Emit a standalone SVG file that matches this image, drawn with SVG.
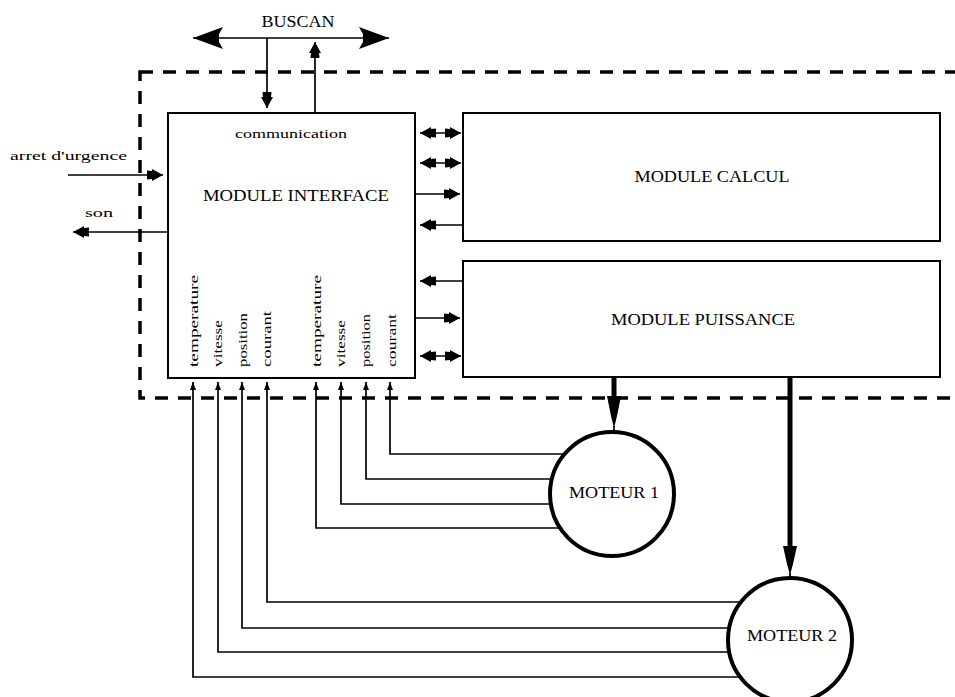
<svg xmlns="http://www.w3.org/2000/svg" width="955" height="697" viewBox="0 0 955 697">
  <style>
    text { font-family: "Liberation Serif", "Times New Roman", serif; fill: #000; }
    .box { fill: #fff; stroke: #000; stroke-width: 2; }
    .motor { fill: #fff; stroke: #000; stroke-width: 4; }
    .wire { fill: none; stroke: #000; stroke-width: 1.7; }
    .power { fill: none; stroke: #000; stroke-width: 5; }
    .frame { fill: none; stroke: #000; stroke-width: 3.5; stroke-dasharray: 13 10; }
    .title { font-size: 16px; }
    .small { font-size: 12px; }
    .arrow { fill: #000; }
  </style>
  <defs>
    <marker id="head" markerUnits="userSpaceOnUse" viewBox="0 0 16 12" refX="16" refY="6" markerWidth="16" markerHeight="12" orient="auto-start-reverse">
      <path d="M0,1.5 L5,2 L5,0 L16,6 L5,12 L5,10 L0,10.5 Z" class="arrow"/>
    </marker>
    <marker id="tick" markerUnits="userSpaceOnUse" viewBox="0 0 8 8" refX="8" refY="4" markerWidth="8" markerHeight="8" orient="auto">
      <path d="M0,1 L8,4 L0,7 Z" class="arrow"/>
    </marker>
    <marker id="bus" markerUnits="userSpaceOnUse" viewBox="0 0 30 22" refX="30" refY="11" markerWidth="30" markerHeight="22" orient="auto-start-reverse">
      <path d="M0,0 L4,7 L4,15 L0,22 L30,11 Z" class="arrow"/>
    </marker>
  </defs>

  <!-- board outline -->
  <rect class="frame" x="140" y="72" width="840" height="326"/>

  <!-- CAN bus -->
  <g id="buscan">
    <text class="title" x="298" y="27" text-anchor="middle" textLength="73" lengthAdjust="spacingAndGlyphs">BUSCAN</text>
  </g>

  <g id="module-interface">
    <rect class="box" x="168" y="113" width="247" height="265"/>
    <text class="small" x="291" y="138" text-anchor="middle" textLength="112" lengthAdjust="spacingAndGlyphs">communication</text>
    <text class="title" x="296" y="201" text-anchor="middle" textLength="186" lengthAdjust="spacingAndGlyphs">MODULE INTERFACE</text>
    <!-- sensor inputs, motor 2 -->
    <text class="small" transform="translate(198,367) rotate(-90)" textLength="92" lengthAdjust="spacingAndGlyphs">temperature</text>
    <text class="small" transform="translate(222,367) rotate(-90)" textLength="47" lengthAdjust="spacingAndGlyphs">vitesse</text>
    <text class="small" transform="translate(247,367) rotate(-90)" textLength="54" lengthAdjust="spacingAndGlyphs">position</text>
    <text class="small" transform="translate(271,367) rotate(-90)" textLength="56" lengthAdjust="spacingAndGlyphs">courant</text>
    <!-- sensor inputs, motor 1 -->
    <text class="small" transform="translate(321,367) rotate(-90)" textLength="92" lengthAdjust="spacingAndGlyphs">temperature</text>
    <text class="small" transform="translate(345,367) rotate(-90)" textLength="47" lengthAdjust="spacingAndGlyphs">vitesse</text>
    <text class="small" transform="translate(370,367) rotate(-90)" textLength="53" lengthAdjust="spacingAndGlyphs">position</text>
    <text class="small" transform="translate(396,367) rotate(-90)" textLength="53" lengthAdjust="spacingAndGlyphs">courant</text>
  </g>

  <g id="module-calcul">
    <rect class="box" x="463" y="113" width="477" height="128"/>
    <text class="title" x="712" y="182" text-anchor="middle" textLength="155" lengthAdjust="spacingAndGlyphs">MODULE CALCUL</text>
  </g>

  <g id="module-puissance">
    <rect class="box" x="463" y="261" width="477" height="116"/>
    <text class="title" x="703" y="325" text-anchor="middle" textLength="184" lengthAdjust="spacingAndGlyphs">MODULE PUISSANCE</text>
  </g>

  <g id="moteur1">
    <circle class="motor" cx="612" cy="494" r="62"/>
    <text class="title" x="614" y="498" text-anchor="middle" textLength="90" lengthAdjust="spacingAndGlyphs">MOTEUR 1</text>
  </g>

  <g id="moteur2">
    <circle class="motor" cx="790" cy="640" r="62"/>
    <text class="title" x="792" y="641" text-anchor="middle" textLength="90" lengthAdjust="spacingAndGlyphs">MOTEUR 2</text>
  </g>

  <g id="labels">
    <text class="small" x="10" y="160" textLength="117" lengthAdjust="spacingAndGlyphs">arret d'urgence</text>
    <text class="small" x="85" y="217" textLength="28" lengthAdjust="spacingAndGlyphs">son</text>
  </g>

  <g id="connectors">
    <!-- CAN bus line and its two links -->
    <line class="wire" x1="193" y1="38" x2="389" y2="38" marker-start="url(#bus)" marker-end="url(#bus)"/>
    <line class="wire" x1="267" y1="38" x2="267" y2="108" marker-end="url(#head)"/>
    <line class="wire" x1="315" y1="113" x2="315" y2="42" marker-end="url(#head)"/>

    <!-- emergency stop in, output out -->
    <line class="wire" x1="68" y1="175" x2="163" y2="175" marker-end="url(#head)"/>
    <line class="wire" x1="168" y1="232" x2="73" y2="232" marker-end="url(#head)"/>

    <!-- interface <-> calcul -->
    <line class="wire" x1="420" y1="133" x2="461" y2="133" marker-start="url(#head)" marker-end="url(#head)"/>
    <line class="wire" x1="420" y1="163" x2="461" y2="163" marker-start="url(#head)" marker-end="url(#head)"/>
    <line class="wire" x1="415" y1="194" x2="460" y2="194" marker-end="url(#head)"/>
    <line class="wire" x1="463" y1="225" x2="420" y2="225" marker-end="url(#head)"/>

    <!-- interface <-> puissance -->
    <line class="wire" x1="463" y1="281" x2="420" y2="281" marker-end="url(#head)"/>
    <line class="wire" x1="415" y1="318" x2="460" y2="318" marker-end="url(#head)"/>
    <line class="wire" x1="420" y1="356" x2="461" y2="356" marker-start="url(#head)" marker-end="url(#head)"/>

    <!-- power to motors -->
    <line class="power" x1="614" y1="377" x2="614" y2="398"/>
    <path class="arrow" d="M607,396 L621,396 L617,416 L614,428 L611,416 Z"/>
    <line class="wire" x1="614" y1="426" x2="614" y2="432"/>
    <line class="power" x1="790" y1="377" x2="790" y2="548"/>
    <path class="arrow" d="M783,546 L797,546 L793,564 L790,575 L787,564 Z"/>
    <line class="wire" x1="790" y1="573" x2="790" y2="578"/>

    <!-- motor 1 sensors -->
    <polyline class="wire" points="565,454 390,454 390,382" marker-end="url(#tick)"/>
    <polyline class="wire" points="552,479 366,479 366,382" marker-end="url(#tick)"/>
    <polyline class="wire" points="551,504 341,504 341,382" marker-end="url(#tick)"/>
    <polyline class="wire" points="560,528 316,528 316,382" marker-end="url(#tick)"/>

    <!-- motor 2 sensors -->
    <polyline class="wire" points="741,602 267,602 267,382" marker-end="url(#tick)"/>
    <polyline class="wire" points="729,628 242,628 242,382" marker-end="url(#tick)"/>
    <polyline class="wire" points="729,652 218,652 218,382" marker-end="url(#tick)"/>
    <polyline class="wire" points="740,677 193,677 193,382" marker-end="url(#tick)"/>
  </g>
</svg>
